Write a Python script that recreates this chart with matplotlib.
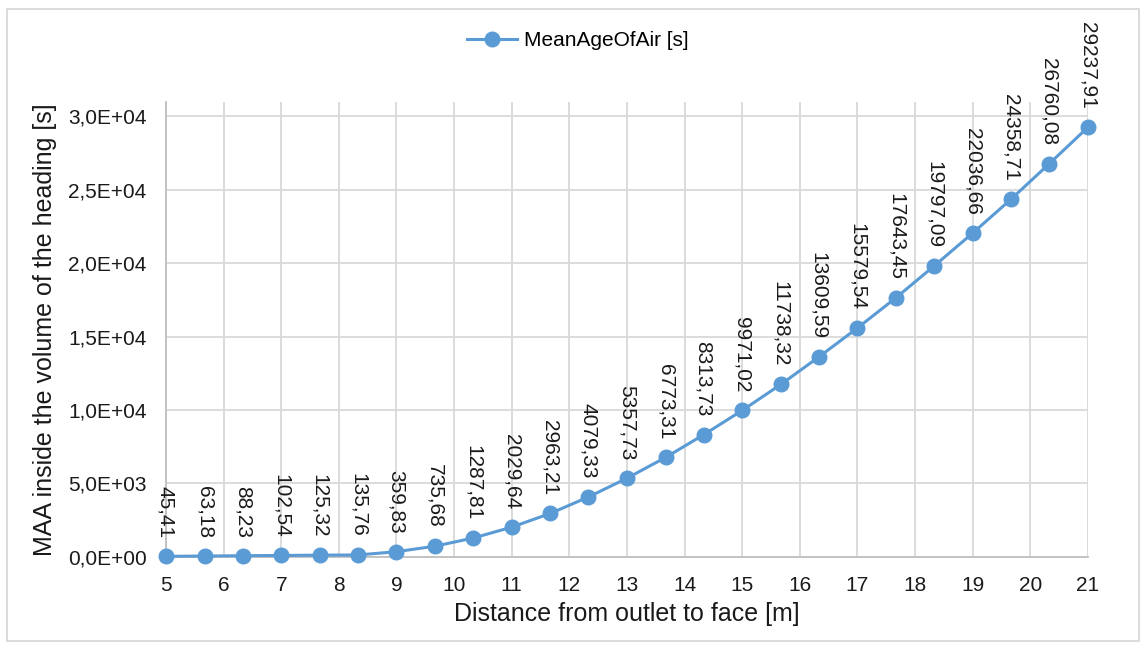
import matplotlib.pyplot as plt
from matplotlib.ticker import FuncFormatter, MultipleLocator
from matplotlib.patches import Rectangle

plt.rcParams['font.family'] = ['Liberation Sans', 'DejaVu Sans']

# ---- data ----
distance = [5, 5.67, 6.33, 7, 7.67, 8.33, 9, 9.67, 10.33, 11, 11.67, 12.33, 13,
            13.67, 14.33, 15, 15.67, 16.33, 17, 17.67, 18.33, 19, 19.67, 20.33, 21]
maa = [45.41, 63.18, 88.23, 102.54, 125.32, 135.76, 359.83, 735.68, 1287.81,
       2029.64, 2963.21, 4079.33, 5357.73, 6773.31, 8313.73, 9971.02, 11738.32,
       13609.59, 15579.54, 17643.45, 19797.09, 22036.66, 24358.71, 26760.08,
       29237.91]
series_name = "MeanAgeOfAir [s]"

blue = "#5B9BD5"
grid_c = "#D9D9D9"

fig = plt.figure(figsize=(11.44, 6.46), dpi=100)
ax = fig.add_axes([0.1451, 0.1378, 0.8059, 0.7042])

ax.plot(distance, maa, color=blue, lw=2.2, marker="o", ms=10.5, label=series_name,
        zorder=3, clip_on=False)

# data labels, rotated, above each point
for x, y in zip(distance, maa):
    txt = f"{y:.2f}".replace(".", ",")
    ax.annotate(txt, (x, y), xytext=(0, 13), textcoords="offset points",
                rotation=270, ha="center", va="bottom", fontsize=15, color="#1a1a1a",
                zorder=4, annotation_clip=False)

ax.set_xlim(5, 21)
ax.set_ylim(0, 30950)
ax.xaxis.set_major_locator(MultipleLocator(1))
ax.yaxis.set_major_locator(MultipleLocator(5000))

def sci_comma(v, pos):
    return f"{v:.1E}".replace(".", ",")

ax.yaxis.set_major_formatter(FuncFormatter(sci_comma))

ax.grid(True, color=grid_c, lw=1.3)
ax.set_axisbelow(True)
for s in ["top", "right"]:
    ax.spines[s].set_visible(False)
for s in ["left", "bottom"]:
    ax.spines[s].set_color("#BFBFBF")
    ax.spines[s].set_linewidth(1.3)
ax.tick_params(length=0, labelsize=15, colors="#1a1a1a")
ax.tick_params(axis="x", pad=14)
ax.tick_params(axis="y", pad=14)

ax.set_xlabel("Distance from outlet to face [m]", fontsize=18, color="#1a1a1a", labelpad=5)
ax.set_ylabel("MAA inside the volume of the heading [s]", fontsize=18, color="#1a1a1a", labelpad=8)

fig.legend(loc="center", bbox_to_anchor=(0.505, 0.937), frameon=False, fontsize=15,
           handlelength=2.4, handletextpad=0.3)

# outer chart border
fig.patches.append(Rectangle((0.006, 0.008), 0.99, 0.978, transform=fig.transFigure,
                             fill=False, edgecolor="#D9D9D9", lw=1.3))

fig.savefig("out.png", dpi=100)
